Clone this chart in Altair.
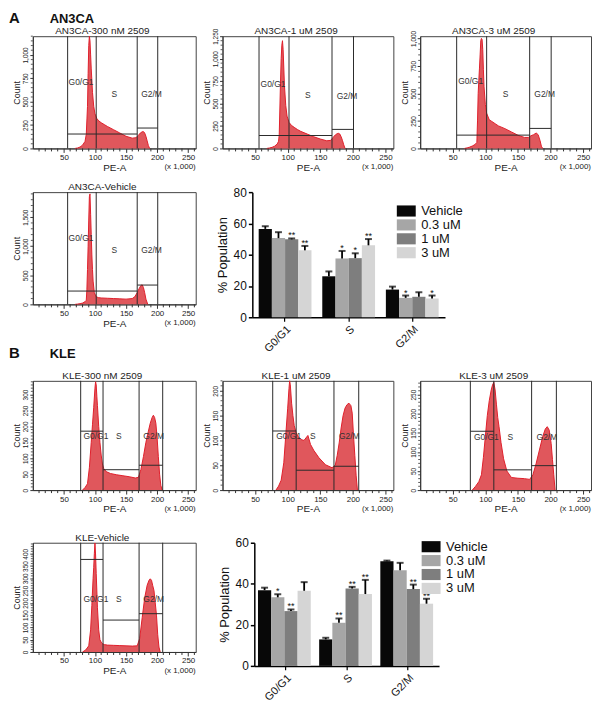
import altair as alt
import pandas as pd

FONT = "Liberation Sans"
FILL = "#e0575c"
EDGE = "#e01f2b"
GATE = "#2a2a2a"
FRAME = "#444444"
AXC = "#333333"

# ---------------- histogram data (PE-A x1000, count) ----------------
an3ca_titles = ["AN3CA-300 nM 2509", "AN3CA-1 uM 2509", "AN3CA-3 uM 2509", "AN3CA-Vehicle"]
kle_titles = ["KLE-300 nM 2509", "KLE-1 uM 2509", "KLE-3 uM 2509", "KLE-Vehicle"]

x1 = [68, 72, 76, 80, 84, 86, 88, 89, 90, 91, 92, 93, 94, 96, 98, 100, 103, 106, 110, 115,
      120, 130, 140, 150, 160, 166, 170, 173, 176, 178, 180, 182, 184, 186, 188]
c1 = [0, 5, 15, 35, 75, 150, 450, 800, 1100, 1200, 1150, 1000, 850, 600, 450, 370, 320, 295, 275, 255,
      235, 200, 165, 130, 110, 115, 140, 165, 178, 180, 165, 130, 80, 30, 0]

x2 = [68, 72, 76, 80, 84, 86, 87, 88, 89, 90, 91, 92, 93, 95, 97, 99, 102, 106, 110, 115,
      120, 130, 140, 150, 160, 166, 170, 173, 176, 178, 180, 182, 184, 186, 188]
c2 = [0, 5, 12, 25, 50, 80, 150, 450, 750, 1000, 1150, 1200, 1100, 700, 480, 360, 290, 255, 235, 210,
      190, 160, 130, 105, 85, 90, 125, 150, 165, 168, 160, 130, 90, 40, 0]

x3 = [68, 72, 76, 80, 84, 87, 88, 89, 90, 91, 92, 93, 94, 95, 96, 97, 98, 100, 102, 106,
      110, 115, 120, 130, 140, 150, 160, 166, 170, 174, 178, 181, 184, 186, 188]
c3 = [0, 5, 12, 22, 35, 55, 250, 500, 620, 730, 850, 980, 1000, 990, 900, 720, 560, 400, 320, 260,
      245, 225, 205, 180, 150, 120, 100, 100, 115, 125, 140, 125, 70, 20, 0]

x4 = [68, 72, 76, 80, 84, 86, 87, 88, 89, 90, 91, 92, 93, 94, 95, 96, 97, 99, 102, 106,
      110, 120, 130, 140, 150, 160, 164, 168, 171, 174, 176, 178, 180, 182, 185]
c4 = [0, 5, 12, 22, 45, 70, 250, 600, 1000, 1450, 1850, 1900, 1550, 1200, 850, 600, 400, 200, 130, 115,
      110, 105, 100, 95, 90, 100, 130, 200, 270, 325, 335, 290, 200, 90, 0]

x5 = [80, 84, 88, 91, 94, 96, 98, 100, 101, 102, 103, 104, 106, 108, 110, 112, 114, 118, 125, 135,
      145, 155, 165, 170, 174, 178, 182, 186, 189, 192, 194, 196, 198, 200, 202, 204, 206, 208]
c5 = [0, 8, 20, 70, 150, 205, 260, 320, 340, 330, 295, 265, 200, 150, 110, 82, 68, 58, 52, 48,
      45, 42, 38, 40, 65, 105, 150, 185, 210, 228, 235, 228, 210, 165, 105, 50, 15, 0]

x6 = [82, 86, 90, 94, 97, 100, 102, 103, 104, 106, 108, 110, 113, 116, 120, 125, 131, 135, 140, 148,
      158, 168, 173, 176, 179, 182, 185, 188, 191, 194, 197, 199, 201, 203, 205, 207]
c6 = [0, 8, 20, 55, 110, 165, 205, 220, 212, 175, 150, 130, 115, 108, 102, 100, 110, 92, 80, 65,
      51, 45, 50, 70, 95, 125, 150, 165, 172, 175, 170, 155, 110, 70, 30, 0]

x7 = [80, 85, 90, 94, 97, 100, 103, 106, 109, 111, 113, 115, 117, 119, 121, 124, 128, 133, 140, 150,
      160, 168, 173, 178, 183, 188, 192, 195, 198, 201, 203, 205, 207]
c7 = [0, 10, 22, 40, 85, 140, 195, 234, 262, 275, 282, 262, 225, 190, 166, 125, 82, 50, 33, 31,
      30, 28, 40, 70, 105, 140, 160, 166, 157, 122, 80, 40, 0]

x8 = [80, 85, 90, 93, 95, 97, 98, 99, 100, 101, 102, 104, 106, 108, 111, 115, 120, 130, 140, 150,
      160, 168, 172, 176, 180, 184, 187, 189, 191, 193, 195, 197, 199, 201, 203, 205]
c8 = [0, 8, 25, 90, 190, 300, 345, 400, 444, 395, 320, 180, 90, 50, 35, 30, 28, 27, 26, 25,
      24, 25, 55, 140, 220, 272, 292, 298, 292, 270, 250, 200, 150, 70, 20, 0]

# y-axis ranges: (max, labelled step, minor step)
yr1 = (1200, 250, 50)
yr2 = (1250, 250, 50)
yr3 = (1020, 250, 50)
yr4 = (1930, 500, 100)
yr5 = (343, 50, 10)
yr6 = (220, 50, 10)
yr7 = (286, 50, 10)
yr8 = (445, 50, 10)

x_major = [50, 100, 150, 200, 250]
x_minor = [10, 20, 30, 40, 60, 70, 80, 90, 110, 120, 130, 140, 160, 170, 180, 190,
           210, 220, 230, 240, 260]

# gates
an3ca_gates = [56, 102, 168, 201]
kle_gates = [77, 113, 171, 209]
seg1 = [(56, 168, 154), (168, 201, 218)]
seg2 = [(56, 168, 144), (168, 201, 212)]
seg3 = [(56, 168, 121), (168, 201, 182)]
seg4 = [(56, 168, 229), (168, 201, 332)]
seg5 = [(77, 113, 185), (113, 171, 64), (171, 209, 78)]
seg6 = [(77, 113, 119), (113, 171, 40), (171, 209, 48)]
seg7 = [(77, 113, 154), (113, 171, 53), (171, 209, 64)]
seg8 = [(77, 113, 377), (113, 171, 130), (171, 209, 156)]

gate_names = ["G0/G1", "S", "G2/M"]
an3ca_lab_x = [77.5, 131, 191]
kle_lab_x = [101.5, 138.5, 194.5]
lab1 = [707, 582, 582]
lab2 = [720, 590, 583]
lab3 = [612, 497, 497]
lab4 = [1140, 940, 940]
lab5 = [170, 170, 170]
lab6 = [109, 109, 109]
lab7 = [140, 140, 140]
lab8 = [217, 217, 217]

# ---------------- bar chart data ----------------
phases = ["G0/G1", "S", "G2/M"]
treatments = ["Vehicle", "0.3 uM", "1 uM", "3 uM"]
bar_colors = ["#080808", "#a6a6a6", "#7e7e7e", "#d5d5d5"]

a_mean = [[56.5, 50.6, 49.8, 42.8], [26.2, 37.6, 37.8, 46.0], [17.7, 12.4, 13.1, 12.0]]
a_err = [[1.7, 3.8, 0.6, 2.8], [3.1, 4.8, 3.1, 4.0], [1.9, 1.5, 2.9, 1.9]]
a_star = [["", "", "**", "**"], ["", "*", "*", "**"], ["", "*", "", "*"]]

b_mean = [[36.9, 33.4, 26.7, 36.6], [12.9, 21.0, 37.7, 35.0], [51.0, 46.6, 37.4, 30.3]]
b_err = [[1.2, 1.5, 0.8, 4.2], [0.8, 2.1, 0.8, 6.9], [0.3, 3.6, 2.2, 2.4]]
b_star = [["", "*", "**", ""], ["", "**", "**", "**"], ["", "", "**", "**"]]

XMAX = 262.144


def spacer(w, h):
    return (alt.Chart(pd.DataFrame({"v": [0]}))
            .mark_point(opacity=0, size=1)
            .encode(x=alt.value(1), y=alt.value(1))
            .properties(width=w, height=h))


def hist(title, xs, cs, yr, gates, segs, lab_x, lab_y, w, h, header=None):
    ymax, major, minor = yr
    xsc = alt.Scale(domain=[0, XMAX], nice=False, zero=False)
    ysc = alt.Scale(domain=[0, ymax], nice=False)
    xax = alt.Axis(title="PE-A", values=x_major, labelExpr="format(datum.value, 'd')",
                   labelFontSize=8, labelFont=FONT, labelColor="#222", labelPadding=1,
                   labelOverlap=False, labelFlush=False,
                   tickSize=4, tickColor=AXC, domainColor=AXC, grid=False,
                   titleFontSize=10, titleFont=FONT, titleFontWeight="normal", titleColor="#222",
                   titlePadding=1)
    ymaj = list(range(0, ymax + 1, major))
    ymin = [v for v in range(minor, ymax + 1, minor) if v % major != 0]
    yax = alt.Axis(title="Count", values=ymaj, labelExpr="format(datum.value, ',')",
                   labelAngle=270, labelAlign="center", labelBaseline="bottom",
                   labelFontSize=6.5, labelFont=FONT, labelColor="#222", labelPadding=1,
                   labelOverlap=False, labelFlush=False,
                   tickSize=3, tickColor=AXC, domainColor=AXC, grid=False,
                   titleFontSize=9, titleFont=FONT, titleFontWeight="normal", titleColor="#222",
                   titlePadding=1)
    X = lambda f="PE:Q": alt.X(f, scale=xsc, axis=xax)
    Y = lambda f="count:Q": alt.Y(f, scale=ysc, axis=yax)

    df = pd.DataFrame({"PE": xs, "count": cs})
    area = alt.Chart(df).mark_area(color=FILL, opacity=1, line={"color": EDGE, "strokeWidth": 1}).encode(
        x=X(), y=Y())
    gdf = pd.DataFrame({"PE": gates})
    vr = alt.Chart(gdf).mark_rule(color=GATE, strokeWidth=1).encode(
        x=X(), y=alt.Y(datum=0, scale=ysc, axis=yax), y2=alt.Y2(datum=ymax))
    sdf = pd.DataFrame({"PE": [s[0] for s in segs], "PE2": [s[1] for s in segs],
                        "count": [s[2] for s in segs]})
    hr = alt.Chart(sdf).mark_rule(color=GATE, strokeWidth=1).encode(x=X(), x2="PE2:Q", y=Y())
    ldf = pd.DataFrame({"PE": lab_x, "count": lab_y, "name": gate_names})
    lt = alt.Chart(ldf).mark_text(fontSize=8.5, font=FONT, color="#333").encode(
        x=X(), y=Y(), text="name:N")
    # minor ticks
    mx = alt.Chart(pd.DataFrame({"PE": x_minor})).mark_rule(color=AXC, strokeWidth=1).encode(
        x=X(), y=alt.value(h), y2=alt.value(h + 3))
    my = alt.Chart(pd.DataFrame({"count": ymin})).mark_rule(color=AXC, strokeWidth=0.8).encode(
        y=Y(), x=alt.value(0), x2=alt.value(-2))
    note = alt.Chart(pd.DataFrame({"v": [0]})).mark_text(
        fontSize=8, font=FONT, color="#222", align="right", baseline="top").encode(
        x=alt.X(datum=XMAX, scale=xsc, axis=xax), y=alt.value(h + 15), text=alt.value("(x 1,000)"))
    ttl = alt.Chart(pd.DataFrame({"v": [0]})).mark_text(
        fontSize=10, font=FONT, color="#222", align="center", baseline="alphabetic").encode(
        x=alt.value(w / 2 - 12), y=alt.value(-2), text=alt.value(title))
    layers = [area, vr, hr, lt, mx, my, note, ttl]
    if header is not None:
        letter, name, base = header
        hd = pd.DataFrame({"v": [0]})
        layers.append(alt.Chart(hd).mark_text(fontSize=15, fontWeight="bold", align="left",
                                              baseline="alphabetic", font=FONT, color="#111").encode(
            x=alt.value(-24), y=alt.value(base), text=alt.value(letter)))
        layers.append(alt.Chart(hd).mark_text(fontSize=13, fontWeight="bold", align="left",
                                              baseline="alphabetic", font=FONT, color="#111").encode(
            x=alt.value(17), y=alt.value(base), text=alt.value(name)))
    return alt.layer(*layers).properties(
        width=w, height=h,
        view=alt.ViewBackground(stroke=FRAME, strokeWidth=1),
    )


def bars(means, errs, stars, ymax, yvals, w, h, pin, pout, legx, legy):
    rows = []
    for i, p in enumerate(phases):
        for j, t in enumerate(treatments):
            rows.append({"phase": p, "treatment": t, "value": means[i][j],
                         "top": means[i][j] + errs[i][j], "star": stars[i][j]})
    df = pd.DataFrame(rows)
    xenc = alt.X("phase:N", sort=phases, scale=alt.Scale(paddingInner=pin, paddingOuter=pout),
                 axis=alt.Axis(title=None, labelAngle=315, labelFontSize=11, labelFont=FONT,
                               labelColor="#111", tickSize=4, tickColor="#000", tickWidth=1.2,
                               domainColor="#000", domainWidth=1.5, labelPadding=2))
    xoff = alt.XOffset("treatment:N", sort=treatments, scale=alt.Scale(paddingInner=0, paddingOuter=0))
    ysc = alt.Scale(domain=[0, ymax], nice=False)
    yax = alt.Axis(title="% Population", values=yvals, grid=False, labelFontSize=12, labelFont=FONT,
                   labelColor="#111", tickSize=4, tickColor="#000", tickWidth=1.5,
                   domainColor="#000", domainWidth=1.5, titleFontSize=13, titleFont=FONT,
                   titleFontWeight="normal", titleColor="#111", titlePadding=4, labelPadding=2)
    base = alt.Chart(df).encode(x=xenc, xOffset=xoff)
    b = base.mark_bar().encode(
        y=alt.Y("value:Q", scale=ysc, axis=yax),
        color=alt.Color("treatment:N", sort=treatments,
                        scale=alt.Scale(domain=treatments, range=bar_colors),
                        legend=alt.Legend(title=None, orient="none", legendX=legx, legendY=legy,
                                          symbolType="M-1.36,-0.8H1.36V0.8H-1.36Z", symbolSize=196,
                                          symbolStrokeWidth=0, symbolOpacity=1,
                                          labelFontSize=13, labelFont=FONT, labelColor="#111",
                                          rowPadding=0, labelOffset=8, padding=0)),
    )
    e = base.mark_rule(color="#000", strokeWidth=1.8).encode(y=alt.Y("value:Q", scale=ysc, axis=yax), y2="top:Q")
    c = base.mark_tick(color="#000", thickness=2, size=7).encode(y=alt.Y("top:Q", scale=ysc, axis=yax))
    s = base.mark_text(fontSize=9, font=FONT, baseline="alphabetic", dy=0, color="#111").encode(
        y=alt.Y("top:Q", scale=ysc, axis=yax), text="star:N")
    return alt.layer(b, e, c, s).properties(width=w, height=h)


W0, WG, W2, W4 = 164, 27, 172, 172
HA, HB = 113, 110

h1 = hist(an3ca_titles[0], x1, c1, yr1, an3ca_gates, seg1, an3ca_lab_x, lab1, W0, HA, ("A", "AN3CA", -13))
h2 = hist(an3ca_titles[1], x2, c2, yr2, an3ca_gates, seg2, an3ca_lab_x, lab2, W2, HA)
h3 = hist(an3ca_titles[2], x3, c3, yr3, an3ca_gates, seg3, an3ca_lab_x, lab3, W4, HA)
h4 = hist(an3ca_titles[3], x4, c4, yr4, an3ca_gates, seg4, an3ca_lab_x, lab4, W0, HA, ("B", "KLE", 167))
h5 = hist(kle_titles[0], x5, c5, yr5, kle_gates, seg5, kle_lab_x, lab5, W0, HB)
h6 = hist(kle_titles[1], x6, c6, yr6, kle_gates, seg6, kle_lab_x, lab6, W2, HB)
h7 = hist(kle_titles[2], x7, c7, yr7, kle_gates, seg7, kle_lab_x, lab7, W4, HB)
h8 = hist(kle_titles[3], x8, c8, yr8, kle_gates, seg8, kle_lab_x, lab8, W0, HB)

barA = bars(a_mean, a_err, a_star, 80, [0, 20, 40, 60, 80], 194, 126, 0.17, 0.1, 148, 12)
barB = bars(b_mean, b_err, b_star, 60, [0, 20, 40, 60], 186, 124, 0.1, 0.06, 171, -3)


def row(*charts):
    return (alt.hconcat(*charts, spacing=0, bounds="flush")
            .resolve_scale(color="independent", x="independent", y="independent")
            .resolve_legend(color="independent"))


rowA1 = row(h1, spacer(WG, HA), h2, spacer(WG, HA), h3)
rowA2 = row(h4, spacer(57, HA), barA)
rowB1 = row(h5, spacer(WG, HB), h6, spacer(WG, HB), h7)
rowB2 = row(h8, spacer(59, HB), barB)

chart = (alt.vconcat(rowA1, spacer(1, 8), rowA2, spacer(1, 8), rowB1, spacer(1, 17), rowB2,
                     spacer(1, 2), spacing=0, bounds="full")
         .resolve_scale(color="independent", x="independent", y="independent")
         .resolve_legend(color="independent")
         .properties(padding=0)
         .configure(font=FONT)
         .configure_view(stroke=None))

chart.save("out.html", embed_options={"renderer": "svg", "actions": False})
